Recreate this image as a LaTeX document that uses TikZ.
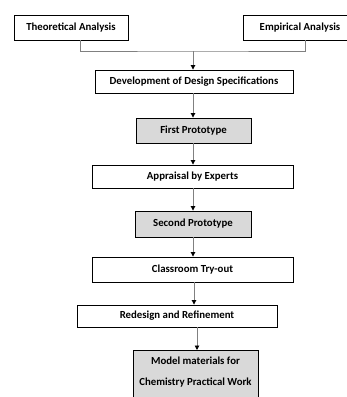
\documentclass[tikz,border=0pt]{standalone}
\usepackage{fontspec}
\setmainfont{Carlito}
\usetikzlibrary{arrows.meta}
\tikzset{
  box/.style={draw=black, line width=0.9pt, fill=white, font=\bfseries\fontsize{10.8}{13}\selectfont, inner sep=0pt},
  grey/.style={box, fill=black!15},
  link/.style={draw=black!50, line width=0.9pt},
  arr/.style={link, -{Triangle[length=4.5pt,width=4.5pt,color=black]}}
}
\begin{document}
\begin{tikzpicture}[x=1pt,y=-1pt]
\useasboundingbox (0,0) rectangle (347,397);
\clip (0,0) rectangle (347,397);

\node[box, minimum width=114pt, minimum height=25pt] (theo) at (71,27.5) {Theoretical Analysis};
\node[box, minimum width=114pt, minimum height=25pt] (emp) at (300,27.5) {Empirical Analysis};
\node[box, minimum width=198pt, minimum height=23pt] (dev) at (194,81.5) {Development of Design Specifications};
\node[grey, minimum width=115pt, minimum height=25pt] (first) at (193.5,130.5) {First Prototype};
\node[box, minimum width=201pt, minimum height=23pt] (appr) at (192.5,176.5) {Appraisal by Experts};
\node[grey, minimum width=116pt, minimum height=26pt] (second) at (193,224) {Second Prototype};
\node[box, minimum width=201pt, minimum height=25pt] (class) at (192.5,269.5) {Classroom Try-out};
\node[box, minimum width=200pt, minimum height=22pt] (redes) at (177,316) {Redesign and Refinement};
\node[grey, minimum width=125pt, minimum height=54pt, anchor=north] (model) at (195.5,350) {};
\node[font=\bfseries\fontsize{10.8}{13}\selectfont] (modelA) at (195.5,361) {Model materials for};
\node[font=\bfseries\fontsize{10.8}{13}\selectfont] (modelB) at (195.5,383) {Chemistry Practical Work};

\coordinate (join) at (193,51);
\draw[link] ([xshift=9pt]theo.south) |- (join) -| ([xshift=5pt]emp.south);
\draw[arr] (join) -- (join |- dev.north);
\draw[arr] (dev.south -| join) -- (first.north -| join);
\draw[arr] (first.south -| join) -- (appr.north -| join);
\draw[arr] (appr.south -| join) -- (second.north -| join);
\draw[arr] (second.south -| join) -- (class.north -| join);
\draw[arr] ([xshift=1pt]class.south -| join) -- ([xshift=1pt]redes.north -| join);
\draw[arr] (redes.south -| 197,0) -- (model.north -| 197,0);

\end{tikzpicture}
\end{document}
